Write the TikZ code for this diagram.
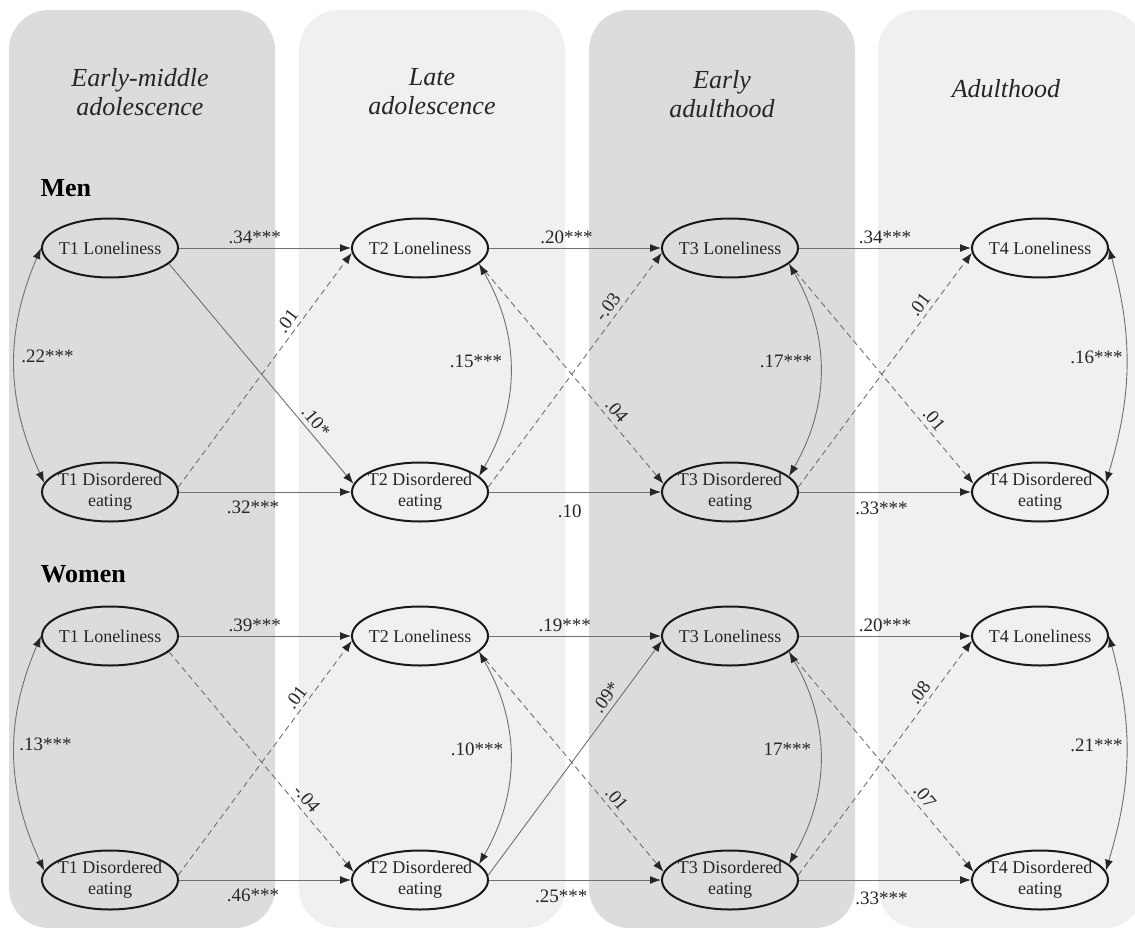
\documentclass[tikz,border=0pt]{standalone}
\usepackage{fontspec}
\setmainfont{Liberation Serif}
\usepackage{xcolor}
\usetikzlibrary{arrows.meta, positioning, shapes.geometric}

\definecolor{stagedark}{HTML}{DCDCDC}
\definecolor{stagelight}{HTML}{F0F0F0}
\definecolor{linegray}{HTML}{707070}
\definecolor{inkgray}{HTML}{262626}

\begin{document}
\begin{tikzpicture}[
        x=1pt, y=-1pt,
        node distance=172pt,
        stage/.style={rounded corners=40pt},
        phase/.style={font=\fontsize{26}{29}\selectfont\itshape, align=center, text=inkgray},
        group/.style={font=\fontsize{26}{28}\selectfont\bfseries, anchor=west, text=black},
        var/.style={ellipse, draw=black!90, line width=2pt, minimum width=136pt, minimum height=59pt, inner xsep=-6pt, inner ysep=0pt, align=center, font=\fontsize{18}{21}\selectfont, text=inkgray},
        effect/.style={-{Latex[length=11pt, width=8pt, color=black!85]}, draw=linegray, line width=0.9pt},
        nseffect/.style={effect, dash pattern=on 6pt off 4pt},
        corr/.style={{Latex[length=11pt, width=8pt, color=black!85]}-{Latex[length=11pt, width=8pt, color=black!85]}, draw=linegray, line width=0.9pt},
        coef/.style={font=\fontsize{19}{21}\selectfont, text=inkgray},
        cross/.style={coef, sloped, above=1pt}
    ]
    \useasboundingbox (0,0) rectangle (1135,931);

    % life stages
    \fill[stagedark, stage] (9,10) rectangle (275,928);
    \fill[stagelight, stage] (299,10) rectangle (565,928);
    \fill[stagedark, stage] (589,10) rectangle (855,928);
    \fill[stagelight, stage] (878,10) rectangle (1144,928);

    \node[phase] (earlymid) at (140,92) {Early-middle\\adolescence};
    \node[phase] (lateado) at (432,92) {Late\\adolescence};
    \node[phase] (earlyadu) at (722,94) {Early\\adulthood};
    \node[phase] (adult) at (1006,89) {Adulthood};

    \node[group] (men) at (37,188) {Men};
    \node[group] (women) at (37,574) {Women};

    % men
    \node[var] (mL1) at (110,248) {T1 Loneliness};
    \node[var, right=of mL1] (mL2) {T2 Loneliness};
    \node[var, right=of mL2] (mL3) {T3 Loneliness};
    \node[var, right=of mL3] (mL4) {T4 Loneliness};
    \node[var, below=183pt of mL1] (mD1) {T1 Disordered\\eating};
    \node[var, right=of mD1] (mD2) {T2 Disordered\\eating};
    \node[var, right=of mD2] (mD3) {T3 Disordered\\eating};
    \node[var, right=of mD3] (mD4) {T4 Disordered\\eating};

    \draw[effect] (mL1) -- node[coef, above, pos=.44] {.34***} (mL2);
    \draw[effect] (mL2) -- node[coef, above, pos=.45] {.20***} (mL3);
    \draw[effect] (mL3) -- node[coef, above, pos=.5] {.34***} (mL4);
    \draw[effect] (mD1) -- node[coef, below=5pt, pos=.43] {.32***} (mD2);
    \draw[effect] (mD2) -- node[coef, below=9pt, pos=.47] {.10} (mD3);
    \draw[effect] (mD3) -- node[coef, below=6pt, pos=.48] {.33***} (mD4);

    \draw[effect] (mL1.-15) -- node[cross, pos=.75] {.10*} (mD2.173);
    \draw[nseffect] (mD1.4) -- node[cross, pos=.68] {.01} (mL2.184);
    \draw[nseffect] (mL2.-15) -- node[cross, pos=.7] {.04} (mD3.173);
    \draw[nseffect] (mD2.4) -- node[cross, pos=.74] {-.03} (mL3.184);
    \draw[nseffect] (mL3.-15) -- node[cross, pos=.74] {.01} (mD4.173);
    \draw[nseffect] (mD3.4) -- node[cross, pos=.75] {.01} (mL4.184);

    \draw[corr] (mL1.west) to[bend right=24] node[coef, right=3pt, pos=.46] {.22***} (mD1.172);
    \draw[corr] (mL2.-15) to[bend left=30] node[coef, left=4pt, pos=.46] {.15***} (mD2.15);
    \draw[corr] (mL3.-15) to[bend left=30] node[coef, left=4pt, pos=.46] {.17***} (mD3.15);
    \draw[corr] (mL4.east) to[bend left=16] node[coef, left=0pt, pos=.46] {.16***} (mD4.8);

    % women
    \node[var] (wL1) at (110,636) {T1 Loneliness};
    \node[var, right=of wL1] (wL2) {T2 Loneliness};
    \node[var, right=of wL2] (wL3) {T3 Loneliness};
    \node[var, right=of wL3] (wL4) {T4 Loneliness};
    \node[var, below=183pt of wL1] (wD1) {T1 Disordered\\eating};
    \node[var, right=of wD1] (wD2) {T2 Disordered\\eating};
    \node[var, right=of wD2] (wD3) {T3 Disordered\\eating};
    \node[var, right=of wD3] (wD4) {T4 Disordered\\eating};

    \draw[effect] (wL1) -- node[coef, above, pos=.44] {.39***} (wL2);
    \draw[effect] (wL2) -- node[coef, above, pos=.44] {.19***} (wL3);
    \draw[effect] (wL3) -- node[coef, above, pos=.5] {.20***} (wL4);
    \draw[effect] (wD1) -- node[coef, below=5pt, pos=.43] {.46***} (wD2);
    \draw[effect] (wD2) -- node[coef, below=6pt, pos=.42] {.25***} (wD3);
    \draw[effect] (wD3) -- node[coef, below=8pt, pos=.48] {.33***} (wD4);

    \draw[nseffect] (wL1.-15) -- node[cross, pos=.7] {-.04} (wD2.173);
    \draw[nseffect] (wD1.4) -- node[cross, pos=.73] {.01} (wL2.184);
    \draw[nseffect] (wL2.-15) -- node[cross, pos=.7] {.01} (wD3.173);
    \draw[effect] (wD2.4) -- node[cross, pos=.73] {.09*} (wL3.184);
    \draw[nseffect] (wL3.-15) -- node[cross, pos=.69] {.07} (wD4.173);
    \draw[nseffect] (wD3.4) -- node[cross, pos=.75] {.08} (wL4.184);

    \draw[corr] (wL1.west) to[bend right=24] node[coef, right=1pt, pos=.46] {.13***} (wD1.172);
    \draw[corr] (wL2.-15) to[bend left=30] node[coef, left=3pt, pos=.46] {.10***} (wD2.15);
    \draw[corr] (wL3.-15) to[bend left=30] node[coef, left=5pt, pos=.46] {17***} (wD3.15);
    \draw[corr] (wL4.east) to[bend left=16] node[coef, left=0pt, pos=.46] {.21***} (wD4.8);

\end{tikzpicture}
\end{document}
